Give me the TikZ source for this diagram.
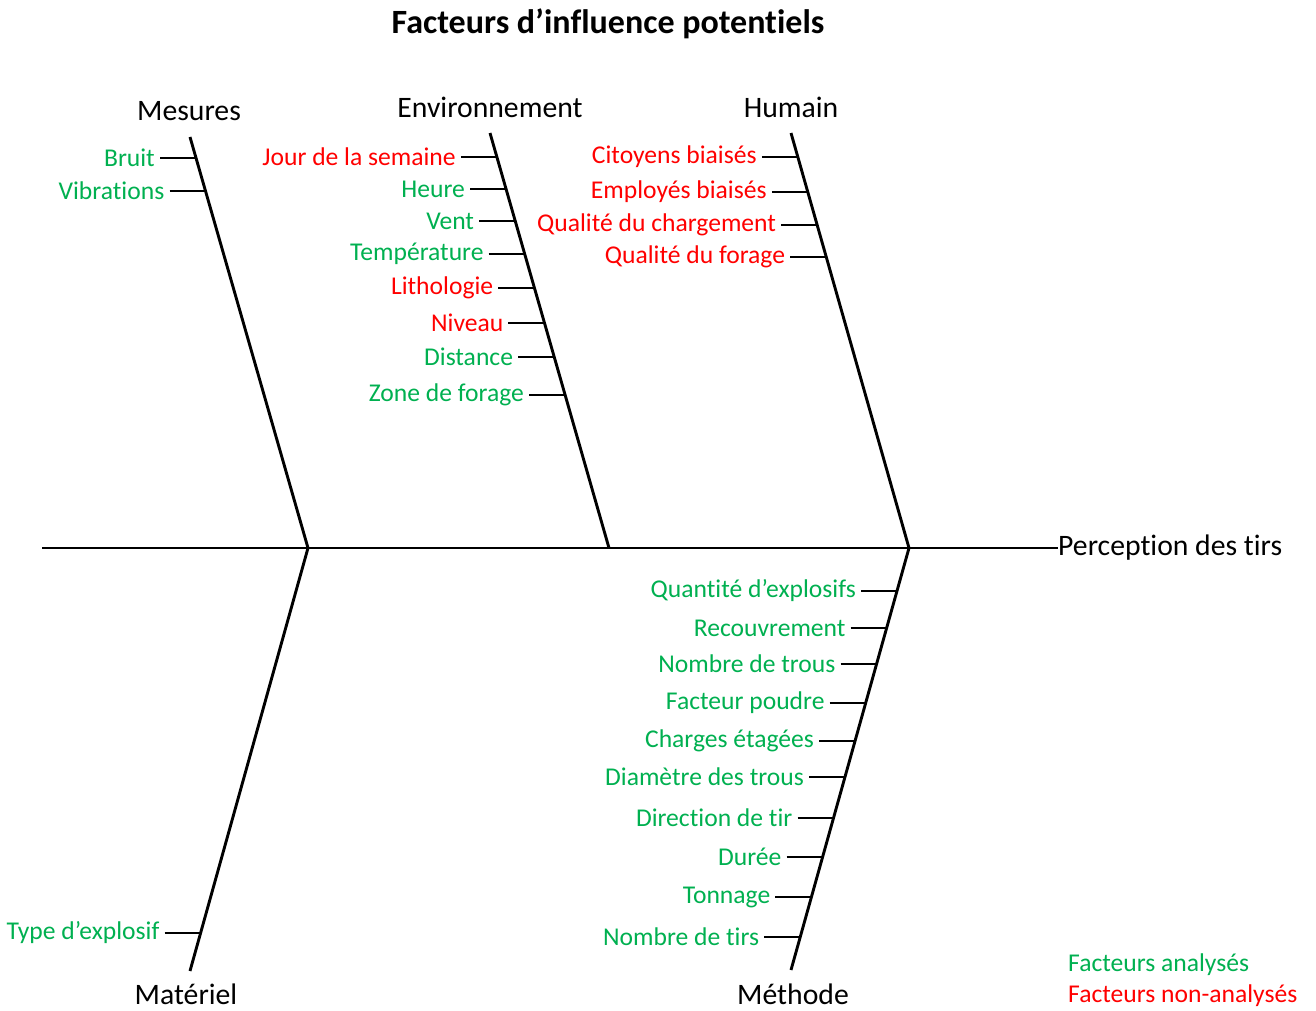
\documentclass[tikz,border=0pt]{standalone}
\usepackage{fontspec}
\setmainfont{Carlito}[Ligatures={NoCommon,NoContextual}]
\usetikzlibrary{calc}
\definecolor{fbgreen}{RGB}{0,176,80}
\definecolor{fbred}{RGB}{255,0,0}
\tikzset{
  bone/.style={line width=2.9pt, black},
  bonetick/.style={line width=2.9pt, black},
  lblg/.style={text=fbgreen, font=\fontsize{25.6}{30}\selectfont, inner xsep=5pt, inner ysep=0pt},
  lblr/.style={text=fbred, font=\fontsize{25.6}{30}\selectfont, inner xsep=5pt, inner ysep=0pt},
  cat/.style={font=\fontsize{29.7}{34}\selectfont, text=black, inner sep=0pt},
}
\newcommand\fbtick[5]{%
  \coordinate (#3b) at (intersection of #1t--#1b and 0,-#2--100,-#2);
  \node[#4, anchor=east] (#3) at ([xshift=-36pt]#3b) {#5};
  \draw[bonetick] (#3.east) -- (#3b);
}
\begin{document}
\begin{tikzpicture}[x=1pt,y=1pt]
\useasboundingbox (0,0) rectangle (1316,-1011);
% title
\node[font=\fontsize{34}{40}\selectfont\bfseries, inner sep=0pt] (title) at (608,-24) {Facteurs d’influence potentiels};
% category labels
\node[cat] (mes) at (189,-111) {Mesures};
\node[cat] (env) at (490,-107) {Environnement};
\node[cat] (hum) at (791,-107) {Humain};
\node[cat] (mat) at (186,-994) {Matériel};
\node[cat] (met) at (793,-994) {Méthode};
\node[cat, anchor=west] (effect) at (1058,-548) {Perception des tirs};
% spine
\coordinate (spineL) at (42,-548);
\draw[bone] (spineL) -- (effect.west);
% bones
\coordinate (mest) at (190,-137);  \coordinate (mesb) at (308,-548);
\coordinate (envt) at (490,-133);  \coordinate (envb) at (609,-548);
\coordinate (humt) at (791,-133);  \coordinate (humb) at (909,-548);
\coordinate (matt) at (308,-548);  \coordinate (matb) at (190,-971);
\coordinate (mett) at (909,-548);  \coordinate (metb) at (791,-970);
\draw[bone] (mest) -- (mesb);
\draw[bone] (envt) -- (envb);
\draw[bone] (humt) -- (humb);
\draw[bone] (matt) -- (matb);
\draw[bone] (mett) -- (metb);
% Mesures
\fbtick{mes}{158}{m1}{lblg}{Bruit}
\fbtick{mes}{191}{m2}{lblg}{Vibrations}
% Environnement
\fbtick{env}{157}{e1}{lblr}{Jour de la semaine}
\fbtick{env}{189}{e2}{lblg}{Heure}
\fbtick{env}{221}{e3}{lblg}{Vent}
\fbtick{env}{254}{e4}{lblg}{Température}
\fbtick{env}{288}{e5}{lblr}{Lithologie}
\fbtick{env}{323}{e6}{lblr}{Niveau}
\fbtick{env}{357}{e7}{lblg}{Distance}
\fbtick{env}{395}{e8}{lblg}{Zone de forage}
% Humain
\fbtick{hum}{157}{h1}{lblr}{Citoyens biaisés}
\fbtick{hum}{192}{h2}{lblr}{Employés biaisés}
\fbtick{hum}{225}{h3}{lblr}{Qualité du chargement}
\fbtick{hum}{257}{h4}{lblr}{Qualité du forage}
% Méthode
\fbtick{met}{591}{t1}{lblg}{Quantité d’explosifs}
\fbtick{met}{628}{t2}{lblg}{Recouvrement}
\fbtick{met}{664}{t3}{lblg}{Nombre de trous}
\fbtick{met}{703}{t4}{lblg}{Facteur poudre}
\fbtick{met}{741}{t5}{lblg}{Charges étagées}
\fbtick{met}{777}{t6}{lblg}{Diamètre des trous}
\fbtick{met}{818}{t7}{lblg}{Direction de tir}
\fbtick{met}{857}{t8}{lblg}{Durée}
\fbtick{met}{897}{t9}{lblg}{Tonnage}
\fbtick{met}{937}{t10}{lblg}{Nombre de tirs}
% Matériel
\fbtick{mat}{933}{a1}{lblg}{Type d’explosif}
% legend
\node[lblg, anchor=west, inner sep=0pt] (leg1) at (1068,-965) {Facteurs analysés};
\node[lblr, anchor=west, inner sep=0pt] (leg2) at (1068,-996) {Facteurs non-analysés};
\end{tikzpicture}
\end{document}
